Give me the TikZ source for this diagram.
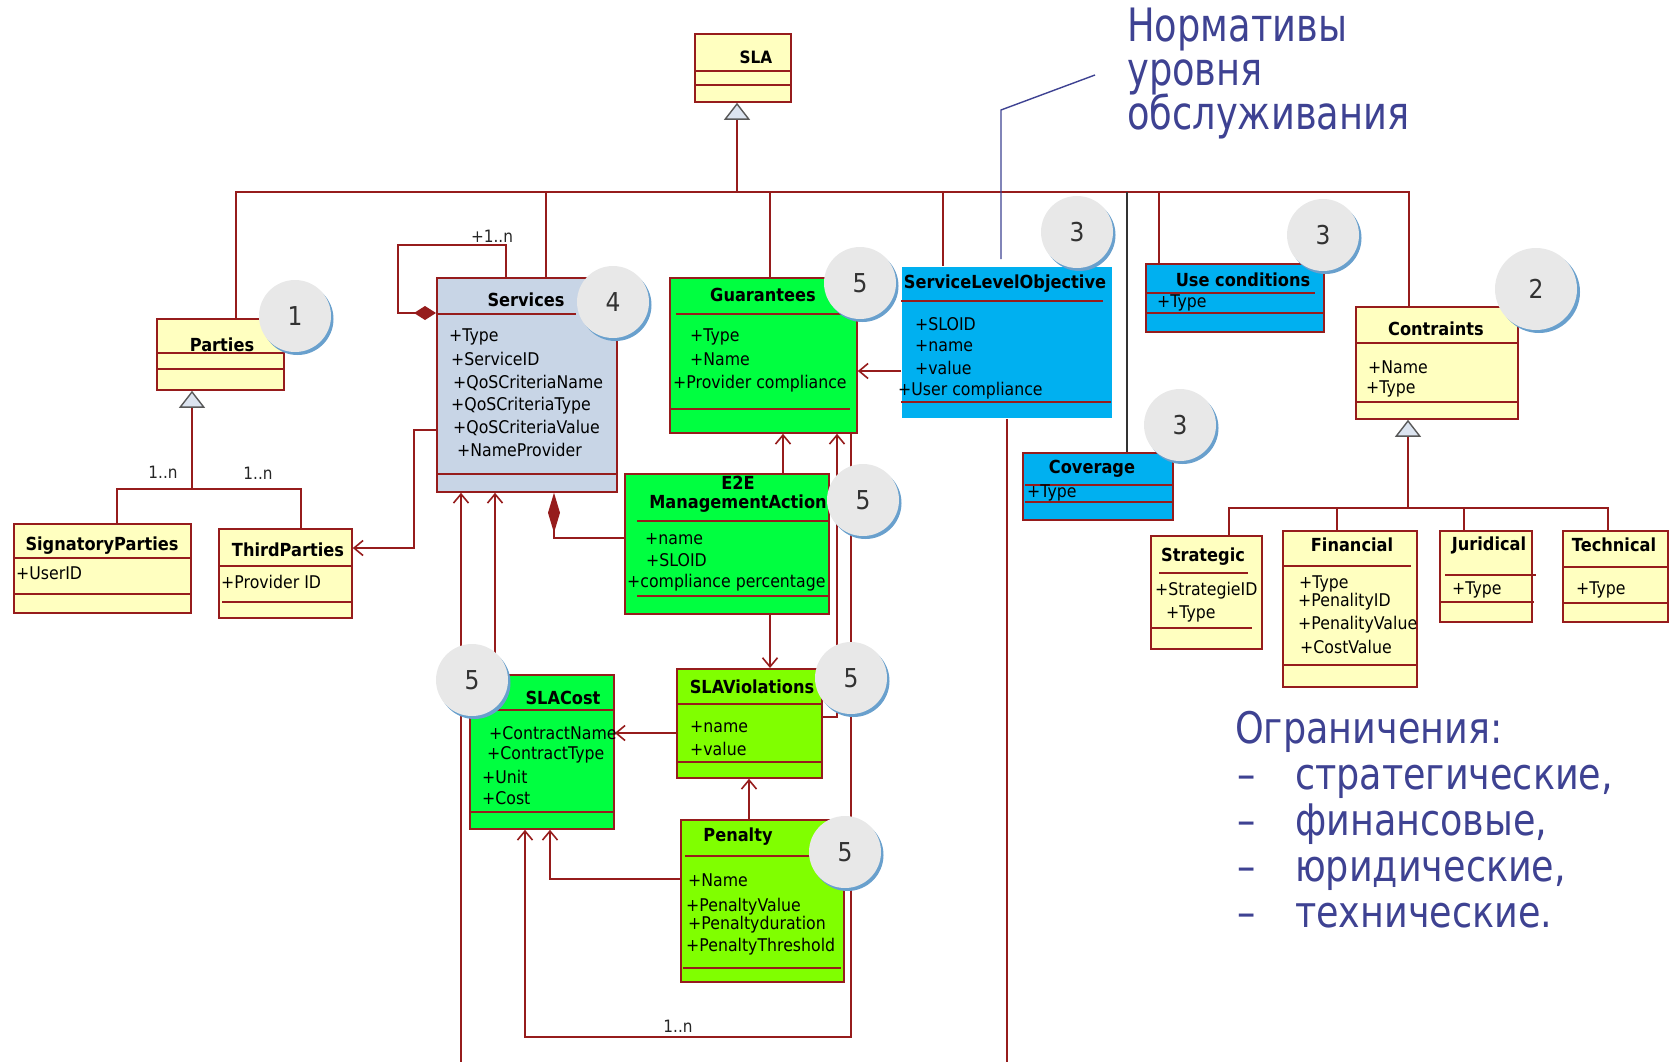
\documentclass[tikz,border=0pt]{standalone}
\usepackage{fontspec}
\usetikzlibrary{arrows.meta}
\newfontfamily\umlfont[FakeStretch=0.9]{DejaVu Sans}
\newfontfamily\rufont[FakeStretch=0.8]{DejaVu Sans}
\newfontfamily\rufontb[FakeStretch=0.84]{DejaVu Sans}

\definecolor{lnred}{RGB}{150,28,28}
\definecolor{yel}{RGB}{255,255,192}
\definecolor{svc}{RGB}{200,213,230}
\definecolor{grn}{RGB}{0,255,64}
\definecolor{lime}{RGB}{128,255,0}
\definecolor{cyn}{RGB}{0,176,240}
\definecolor{rublue}{RGB}{62,66,146}
\definecolor{badgegray}{RGB}{232,232,232}
\definecolor{badgeedge}{RGB}{105,160,205}
\definecolor{genfill}{RGB}{220,228,240}
\definecolor{numgray}{RGB}{50,50,50}

% class box: name, x1, y1, x2, y2, fill
\newcommand{\umlclass}[6]{\node[cls, fill=#6, minimum width={#4-#2}, minimum height={#5-#3}] (#1) at (#2,#3) {};}
% numbered badge: name, x, y, number
\newcommand{\badge}[4]{\node[badgesh] (#1s) at (#2+2.5,#3+3) {};\node[badge] (#1) at (#2,#3) {#4};}

\begin{document}
\begin{tikzpicture}[x=1pt,y=-1pt,
  cls/.style={draw=lnred, line width=1.8pt, rectangle, inner sep=0pt, anchor=north west},
  sep/.style={draw=lnred, line width=1.6pt},
  ttl/.style={font={\umlfont\bfseries\fontsize{18}{21}\selectfont}, inner sep=0pt, text=black},
  attr/.style={font={\umlfont\fontsize{17.5}{20}\selectfont}, inner sep=0pt, anchor=west, text=black},
  mult/.style={font={\umlfont\fontsize{17}{20}\selectfont}, inner sep=0pt, text=black!85},
  conn/.style={draw=lnred, line width=1.6pt},
  opn/.style={-{Straight Barb[length=9pt,width=15pt]}},
  comp/.style={-{Diamond[length=22pt,width=14pt]}},
  compl/.style={-{Diamond[length=40pt,width=12pt]}},
  gentip/.style={-{Triangle[length=17pt,width=26pt,fill=genfill,color=black!65,line width=1.4pt]}},
  blk/.style={draw=black!80, line width=1.6pt},
  lead/.style={draw=rublue, line width=1.4pt},
  badge/.style={circle, fill=badgegray, minimum size=72pt, inner sep=0pt,
    font={\umlfont\fontsize{26}{30}\selectfont}, text=numgray},
  badgesh/.style={circle, fill=badgeedge, minimum size=72pt, inner sep=0pt},
  rutxt/.style={font={\rufont\fontsize{46}{50}\selectfont}, text=rublue, inner sep=0pt, anchor=base west},
  rutxtb/.style={font={\rufontb\fontsize{43.5}{46}\selectfont}, text=rublue, inner sep=0pt, anchor=base west}
]
\useasboundingbox (0,0) rectangle (1675,1062);

% ---------- class boxes ----------
\umlclass{sla}{694}{33}{790}{101}{yel}
\umlclass{parties}{156}{318}{283}{389}{yel}
\umlclass{sign}{13}{523}{190}{612}{yel}
\umlclass{third}{218}{528}{351}{617}{yel}
\umlclass{serv}{436}{277}{616}{491}{svc}
\umlclass{guar}{669}{277}{856}{432}{grn}
\umlclass{e2e}{624}{473}{828}{613}{grn}
\node[cls, draw=none, fill=cyn, minimum width=210, minimum height=151] (slo) at (901,266) {};
\umlclass{usec}{1145}{263}{1323}{331}{cyn}
\umlclass{cov}{1022}{452}{1172}{519}{cyn}
\umlclass{contr}{1355}{306}{1517}{418}{yel}
\umlclass{strat}{1150}{535}{1261}{648}{yel}
\umlclass{fin}{1282}{530}{1416}{686}{yel}
\umlclass{jur}{1439}{530}{1531}{621}{yel}
\umlclass{tech}{1562}{530}{1667}{621}{yel}
\umlclass{cost}{469}{674}{613}{828}{grn}
\umlclass{viol}{676}{668}{821}{777}{lime}
\umlclass{pen}{680}{819}{843}{981}{lime}

% ---------- compartment separators ----------
\draw[sep] (694,71) -- (792,71);  \draw[sep] (694,85) -- (792,85);
\draw[sep] (156,353) -- (283,353); \draw[sep] (156,369) -- (283,369);
\draw[sep] (13,558) -- (190,558);  \draw[sep] (13,594) -- (190,594);
\draw[sep] (218,566) -- (351,566); \draw[sep] (222,602) -- (351,602);
\draw[sep] (436,314) -- (576,314); \draw[sep] (436,474) -- (616,474);
\draw[sep] (676,314) -- (856,314); \draw[sep] (669,409) -- (850,409);
\draw[sep] (637,521) -- (828,521); \draw[sep] (637,596) -- (828,596);
\draw[sep] (901,301) -- (1103,301); \draw[sep] (901,402) -- (1111,402);
\draw[sep] (1145,293) -- (1315,293); \draw[sep] (1145,313) -- (1323,313);
\draw[sep] (1025,485) -- (1172,485); \draw[sep] (1025,502) -- (1172,502);
\draw[sep] (1355,343) -- (1517,343); \draw[sep] (1355,402) -- (1517,402);
\draw[sep] (1159,573) -- (1248,573); \draw[sep] (1150,628) -- (1252,628);
\draw[sep] (1282,566) -- (1411,566); \draw[sep] (1282,665) -- (1416,665);
\draw[sep] (1445,575) -- (1536,575); \draw[sep] (1439,602) -- (1534,602);
\draw[sep] (1562,567) -- (1667,567); \draw[sep] (1562,603) -- (1667,603);
\draw[sep] (469,710) -- (615,710); \draw[sep] (469,812) -- (615,812);
\draw[sep] (676,704) -- (823,704); \draw[sep] (676,762) -- (823,762);
\draw[sep] (685,856) -- (809,856); \draw[sep] (683,968) -- (841,968);

% ---------- connectors ----------
\coordinate (bus) at (0,192);
\draw[conn] (236,0 |- parties.north) -- (236,0 |- bus) -- (1409,0 |- bus) -- (1409,0 |- contr.north);
\draw[conn] (546,0 |- bus) -- (546,0 |- serv.north);
\draw[conn] (770,0 |- bus) -- (770,0 |- guar.north);
\draw[conn] (943,0 |- bus) -- (943,0 |- slo.north);
\draw[conn] (1159,0 |- bus) -- (1159,0 |- usec.north);
\draw[conn, gentip] (737,0 |- bus) -- (737,0 |- sla.south);
\draw[blk] (1127,0 |- bus) -- (1127,0 |- cov.north);

% Parties hierarchy
\coordinate (pj) at (192,489);
\draw[conn] (117,0 |- sign.north) -- (117,0 |- pj) -- (301,0 |- pj) -- (301,0 |- third.north);
\draw[conn, gentip] (pj) -- (pj |- parties.south);

% Contraints hierarchy
\coordinate (cj) at (1408,508);
\draw[conn] (1229,0 |- strat.north) -- (1229,0 |- cj) -- (1608,0 |- cj) -- (1608,0 |- tech.north);
\draw[conn] (1337,0 |- cj) -- (1337,0 |- fin.north);
\draw[conn] (1464,0 |- cj) -- (1464,0 |- jur.north);
\draw[conn, gentip] (cj) -- (cj |- contr.south);

% Services self-association and links
\draw[conn, comp] (506,0 |- serv.north) -- (506,245) -- (398,245) -- (398,313) -- (serv.west |- 0,313);
\draw[conn, opn] (serv.west |- 0,430) -- (414,430) -- (414,548) -- (third.east |- 0,548);
\draw[conn, compl] (e2e.west |- 0,538) -- (554,538) -- (554,0 |- serv.south);
\coordinate (lowA) at (461,1062);
\draw[conn, opn] (lowA) -- (lowA |- serv.south);
\draw[conn, opn] (495,0 |- cost.north) -- (495,0 |- serv.south);

% Guarantees links
\draw[conn, opn] (slo.west |- 0,371) -- (guar.east |- 0,371);
\draw[conn, opn] (783,0 |- e2e.north) -- (783,0 |- guar.south);
\draw[conn, opn] (viol.east |- 0,717) -- (837,717) -- (837,0 |- guar.south);
\draw[conn, opn] (851,0 |- guar.south) -- (851,1037) -- (525,1037) -- (525,0 |- cost.south);

% violations, penalty, cost
\draw[conn, opn] (770,0 |- e2e.south) -- (770,0 |- viol.north);
\draw[conn, opn] (viol.west |- 0,733) -- (cost.east |- 0,733);
\draw[conn, opn] (749,0 |- pen.north) -- (749,0 |- viol.south);
\draw[conn, opn] (pen.west |- 0,879) -- (550,879) -- (550,0 |- cost.south);

% SLO downward
\coordinate (lowB) at (1007,1062);
\draw[conn] (1007,0 |- slo.south) -- (lowB);

% leader line of the heading
\coordinate (ld1) at (1095,75);
\coordinate (ld2) at (1001,259);
\draw[lead] (ld1) -- (1001,110) -- (ld2);

% ---------- multiplicities ----------
\node[mult] (m1) at (492,236) {+1..n};
\node[mult] (m2) at (163,472) {1..n};
\node[mult] (m3) at (258,473) {1..n};
\node[mult] (m4) at (678,1026) {1..n};

% ---------- titles ----------
\node[ttl, font={\umlfont\bfseries\fontsize{17}{20}\selectfont}] (tsla) at (756,57) {SLA};
\node[ttl] (tpart) at (222,345) {Parties};
\node[ttl] (tsign) at (102,546) {SignatoryParties};
\node[ttl] (tthird) at (288,550) {ThirdParties};
\node[ttl] (tserv) at (526,300) {Services};
\node[ttl] (tguar) at (763,295) {Guarantees};
\node[ttl] (te2ea) at (738,483) {E2E};
\node[ttl] (te2eb) at (738,504) {ManagementAction};
\node[ttl] (tslo) at (1005,284) {ServiceLevelObjective};
\node[ttl] (tusec) at (1243,280) {Use conditions};
\node[ttl] (tcov) at (1092,469) {Coverage};
\node[ttl] (tcontr) at (1436,329) {Contraints};
\node[ttl] (tstrat) at (1203,557) {Strategic};
\node[ttl] (tfin) at (1352,545) {Financial};
\node[ttl] (tjur) at (1489,545) {Juridical};
\node[ttl] (ttech) at (1614,545) {Technical};
\node[ttl] (tcost) at (563,698) {SLACost};
\node[ttl] (tviol) at (752,687) {SLAViolations};
\node[ttl] (tpen) at (738,837) {Penalty};

% ---------- attributes ----------
\node[attr] (a1) at (16,573) {+UserID};
\node[attr] (a2) at (221,582) {+Provider ID};
\node[attr] (a3) at (449,337) {+Type};
\node[attr] (a4) at (451,359) {+ServiceID};
\node[attr] (a5) at (453,383) {+QoSCriteriaName};
\node[attr] (a6) at (451,406) {+QoSCriteriaType};
\node[attr] (a7) at (453,428) {+QoSCriteriaValue};
\node[attr] (a8) at (457,450) {+NameProvider};
\node[attr] (a9) at (690,337) {+Type};
\node[attr] (a10) at (690,359) {+Name};
\node[attr] (a11) at (673,384) {+Provider compliance};
\node[attr] (a12) at (645,539) {+name};
\node[attr] (a13) at (646,560) {+SLOID};
\node[attr] (a14) at (627,583) {+compliance percentage};
\node[attr] (a15) at (915,324) {+SLOID};
\node[attr] (a16) at (915,346) {+name};
\node[attr] (a17) at (915,368) {+value};
\node[attr] (a18) at (898,391) {+User compliance};
\node[attr] (a19) at (1157,303) {+Type};
\node[attr] (a20) at (1027,493) {+Type};
\node[attr] (a21) at (1368,367) {+Name};
\node[attr] (a22) at (1366,389) {+Type};
\node[attr] (a23) at (1155,591) {+StrategieID};
\node[attr] (a24) at (1166,614) {+Type};
\node[attr] (a25) at (1299,584) {+Type};
\node[attr] (a26) at (1298,602) {+PenalityID};
\node[attr] (a27) at (1298,625) {+PenalityValue};
\node[attr] (a28) at (1300,647) {+CostValue};
\node[attr] (a29) at (1452,590) {+Type};
\node[attr] (a30) at (1576,590) {+Type};
\node[attr] (a31) at (489,733) {+ContractName};
\node[attr] (a32) at (487,755) {+ContractType};
\node[attr] (a33) at (482,777) {+Unit};
\node[attr] (a34) at (482,798) {+Cost};
\node[attr] (a35) at (690,727) {+name};
\node[attr] (a36) at (690,749) {+value};
\node[attr] (a37) at (688,880) {+Name};
\node[attr] (a38) at (686,907) {+PenaltyValue};
\node[attr] (a39) at (688,925) {+Penaltyduration};
\node[attr] (a40) at (686,947) {+PenaltyThreshold};

% ---------- numbered badges ----------
\badge{b1}{295}{316}{1}
\badge{b4}{613}{302}{4}
\badge{b5a}{860}{283}{5}
\badge{b5b}{863}{500}{5}
\badge{b5c}{472}{680}{5}
\badge{b5d}{851}{678}{5}
\badge{b5e}{845}{852}{5}
\badge{b3a}{1077}{232}{3}
\badge{b3b}{1323}{235}{3}
\badge{b3c}{1180}{425}{3}
\node[badgesh, minimum size=82pt] (b2s) at (1539,292) {};
\node[badge, minimum size=82pt] (b2) at (1536,289) {2};

% ---------- headings ----------
\node[rutxt] (h1) at (1127,42) {Нормативы};
\node[rutxt] (h2) at (1127,86) {уровня};
\node[rutxt] (h3) at (1127,130) {обслуживания};

\node[rutxtb] (r0) at (1235,743) {Ограничения:};
\node[rutxtb] (d1) at (1237,789) {–};
\node[rutxtb] (d2) at (1237,835) {–};
\node[rutxtb] (d3) at (1237,881) {–};
\node[rutxtb] (d4) at (1237,927) {–};
\node[rutxtb] (r1) at (1295,789) {стратегические,};
\node[rutxtb] (r2) at (1295,835) {финансовые,};
\node[rutxtb] (r3) at (1295,881) {юридические,};
\node[rutxtb] (r4) at (1295,927) {технические.};
\end{tikzpicture}
\end{document}
